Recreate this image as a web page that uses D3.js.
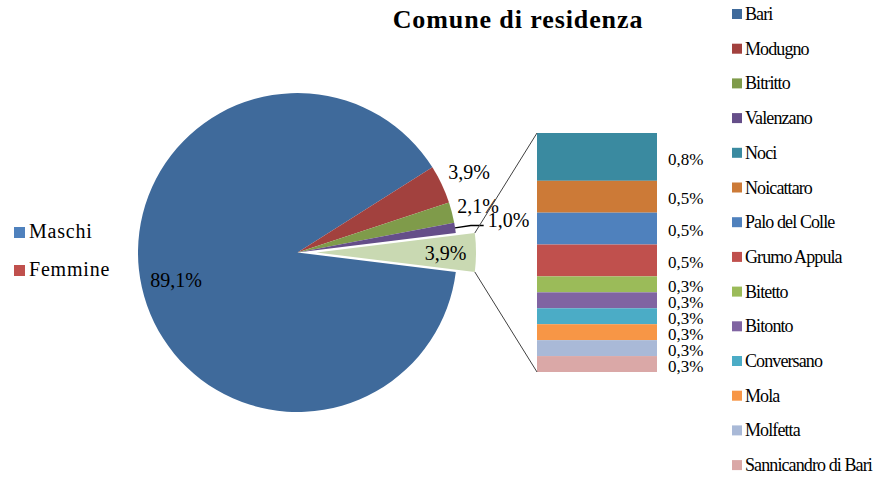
<!DOCTYPE html>
<html>
<head>
<meta charset="utf-8">
<script src="https://cdn.jsdelivr.net/npm/d3@7"></script>
<style>
    body { margin: 0; background: #ffffff; }
    svg text { font-family: "Liberation Serif", "Times New Roman", serif; }
</style>
</head>
<body>
<div class="chart"></div>
<script>
// pie: the four biggest towns plus the group that goes into the bar
var pieCategories = ["Bari", "Modugno", "Bitritto", "Valenzano"];
var pieCounts = [343, 15, 8, 4];
var pieColors = ["#3F6A9B", "#A2413E", "#7F9B4A", "#654E89"];
var otherColor = "#C9D9B2";

// bar of pie: the rest, top to bottom
var otherCategories = ["Noci", "Noicattaro", "Palo del Colle", "Grumo Appula", "Bitetto", "Bitonto", "Conversano", "Mola", "Molfetta", "Sannicandro di Bari"];
var otherCounts = [3, 2, 2, 2, 1, 1, 1, 1, 1, 1];
var otherColors = ["#3A8AA0", "#CC7A37", "#4F81BD", "#C0504D", "#9BBB59", "#8064A2", "#4BACC6", "#F79646", "#A9B9D7", "#DAA8A7"];

var leftLegend = ["Maschi", "Femmine"];
var leftLegendColors = ["#4F81BD", "#C0504D"];

var title = "Comune di residenza";

(function () {
    var width = 876, height = 479;
    var cx = 297.5, cy = 252.5, radius = 159.5, explode = 19;
    var barLeft = 537, barWidth = 120, barTop = 133, barBottom = 372;

    var otherTotal = d3.sum(otherCounts);
    var total = d3.sum(pieCounts) + otherTotal;
    var fmt = function (v) { return d3.format(".1f")(v / total * 100).replace(".", ",") + "%"; };

    var svg = d3.select(".chart").append("svg")
        .attr("width", width)
        .attr("height", height);

    /*
        Pie
    */
    var slices = [{ name: "Altri", value: otherTotal, color: otherColor, other: true }];
    for (var i = 0; i < pieCategories.length; i++) {
        slices.push({ name: pieCategories[i], value: pieCounts[i], color: pieColors[i] });
    }
    var otherAngle = otherTotal / total * 2 * Math.PI;
    var start = Math.PI / 2 - otherAngle / 2;
    var pie = d3.pie().sort(null).value(function (d) { return d.value; })
        .startAngle(start).endAngle(start + 2 * Math.PI);
    var arcs = pie(slices);
    var arc = d3.arc().innerRadius(0).outerRadius(radius);

    // label distance from centre, in radii
    var labelRadius = { "Altri": 0.81, "Bari": 0.78, "Modugno": 1.19, "Bitritto": 1.17, "Valenzano": 1.34 };
    var mid = function (d) { return (d.startAngle + d.endAngle) / 2; };
    var polar = function (a, r) { return [Math.sin(a) * r, -Math.cos(a) * r]; };
    var shift = function (d) { return d.data.other ? explode : 0; };

    var g = svg.append("g").attr("transform", "translate(" + cx + "," + cy + ")");
    g.selectAll("path.slice").data(arcs).enter().append("path")
        .attr("class", "slice")
        .attr("d", arc)
        .attr("transform", function (d) { return "translate(" + shift(d) + ",0)"; })
        .attr("fill", function (d) { return d.data.color; });

    g.selectAll("text.pct").data(arcs).enter().append("text")
        .attr("class", "pct")
        .attr("x", function (d) { return polar(mid(d), radius * labelRadius[d.data.name])[0] + shift(d); })
        .attr("y", function (d) { return polar(mid(d), radius * labelRadius[d.data.name])[1]; })
        .attr("dy", ".35em")
        .attr("text-anchor", "middle")
        .attr("font-size", 20)
        .attr("fill", "#000000")
        .text(function (d) { return fmt(d.data.value); });

    // leader line for the small slice label
    var small = arcs.filter(function (d) { return d.data.name === "Valenzano"; })[0];
    var p0 = polar(mid(small), radius);
    var p1 = polar(mid(small), radius * 1.1);
    var lp = polar(mid(small), radius * labelRadius["Valenzano"]);
    g.append("polyline")
        .attr("points", [p0, p1, [lp[0] - 25, p1[1]]].map(function (p) { return p.join(","); }).join(" "))
        .attr("fill", "none")
        .attr("stroke", "#000000")
        .attr("stroke-width", 1.5);

    /*
        Bar of pie
    */
    var y = d3.scaleLinear().domain([0, otherTotal]).range([barTop, barBottom]);
    var cum = 0;
    var segs = otherCounts.map(function (v, i) {
        var s = { name: otherCategories[i], value: v, y0: cum, y1: cum + v, color: otherColors[i] };
        cum += v;
        return s;
    });
    svg.selectAll("rect.seg").data(segs).enter().append("rect")
        .attr("class", "seg")
        .attr("x", barLeft)
        .attr("y", function (d) { return y(d.y0); })
        .attr("width", barWidth)
        .attr("height", function (d) { return y(d.y1) - y(d.y0); })
        .attr("fill", function (d) { return d.color; });
    svg.selectAll("text.seg").data(segs).enter().append("text")
        .attr("class", "seg")
        .attr("x", barLeft + barWidth + 11)
        .attr("y", function (d) { return (y(d.y0) + y(d.y1)) / 2; })
        .attr("dy", ".45em")
        .attr("font-size", 17)
        .attr("fill", "#000000")
        .text(function (d) { return fmt(d.value); });

    // connectors from the exploded slice to the bar
    var oth = arcs[0];
    var cTop = polar(oth.startAngle, radius), cBot = polar(oth.endAngle, radius);
    var connectors = [[cx + explode + cTop[0], cy + cTop[1], barLeft, y(0)],
                      [cx + explode + cBot[0], cy + cBot[1], barLeft, y(otherTotal)]];
    svg.selectAll("line.conn").data(connectors).enter().append("line")
        .attr("class", "conn")
        .attr("x1", function (d) { return d[0]; })
        .attr("y1", function (d) { return d[1]; })
        .attr("x2", function (d) { return d[2]; })
        .attr("y2", function (d) { return d[3]; })
        .attr("stroke", "#404040")
        .attr("stroke-width", 1);

    /*
        Title and legends
    */
    svg.append("text")
        .attr("x", 518)
        .attr("y", 28)
        .attr("text-anchor", "middle")
        .attr("font-size", 26)
        .attr("font-weight", "bold")
        .attr("letter-spacing", 0.9)
        .text(title);

    var ll = svg.selectAll("g.ll").data(leftLegend).enter().append("g")
        .attr("class", "ll")
        .attr("transform", function (d, i) { return "translate(14," + (227 + i * 38) + ")"; });
    ll.append("rect").attr("width", 11).attr("height", 11)
        .attr("fill", function (d, i) { return leftLegendColors[i]; });
    ll.append("text").attr("x", 15).attr("y", 11)
        .attr("font-size", 20)
        .attr("letter-spacing", 0.8)
        .text(function (d) { return d; });

    var rightItems = pieCategories.map(function (n, i) { return { name: n, color: pieColors[i] }; })
        .concat(otherCategories.map(function (n, i) { return { name: n, color: otherColors[i] }; }));
    var rl = svg.selectAll("g.rl").data(rightItems).enter().append("g")
        .attr("class", "rl")
        .attr("transform", function (d, i) { return "translate(732," + (9 + i * 34.7) + ")"; });
    rl.append("rect").attr("width", 10).attr("height", 10)
        .attr("fill", function (d) { return d.color; });
    rl.append("text").attr("x", 13).attr("y", 11)
        .attr("font-size", 18)
        .attr("letter-spacing", -0.9)
        .text(function (d) { return d.name; });
})();
</script>
</body>
</html>
